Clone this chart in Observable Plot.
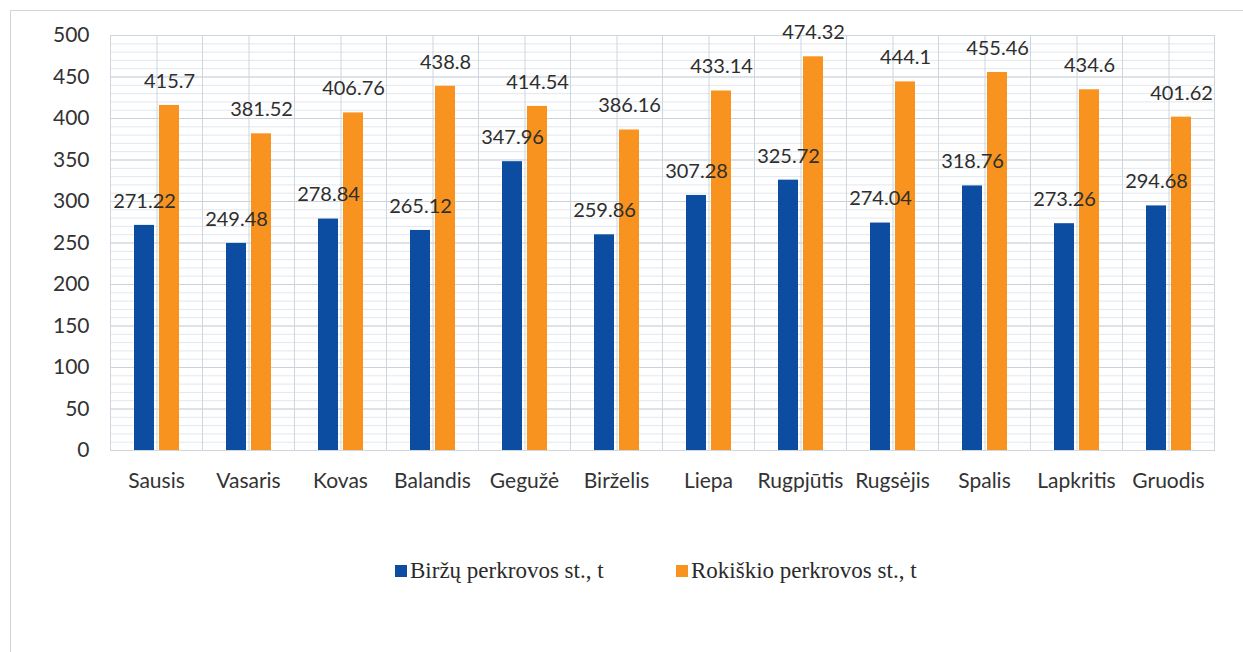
<!DOCTYPE html>
<html>
<head>
<meta charset="utf-8">
<script src="https://cdn.jsdelivr.net/npm/d3@7"></script>
<script src="https://cdn.jsdelivr.net/npm/@observablehq/plot@0.6"></script>
<style>
  html, body { margin: 0; padding: 0; background: #fff; }
  #wrap { position: relative; width: 1243px; height: 652px; overflow: hidden; }
  #border { position: absolute; left: 10px; top: 10px; width: 1240px; height: 660px; border: 1px solid #d4d4d4; box-sizing: border-box; }
  #chart { position: absolute; left: 0; top: 0; }
  .leg { position: absolute; top: 558px; display: flex; align-items: center; font-family: "Liberation Serif", "DejaVu Serif", serif; font-size: 23px; color: #2a2a2a; }
  .sw { width: 12px; height: 12px; margin-right: 3px; }
</style>
</head>
<body>
<div id="wrap">
  <div id="border"></div>
  <div id="chart"></div>
  <div id="legend"></div>
</div>
<script>
const months = ["Sausis","Vasaris","Kovas","Balandis","Gegužė","Birželis","Liepa","Rugpjūtis","Rugsėjis","Spalis","Lapkritis","Gruodis"];
const birzai = [271.22,249.48,278.84,265.12,347.96,259.86,307.28,325.72,274.04,318.76,273.26,294.68];
const rokiskis = [415.7,381.52,406.76,438.8,414.54,386.16,433.14,474.32,444.1,455.46,434.6,401.62];
const seriesNames = ["Biržų perkrovos st., t","Rokiškio perkrovos st., t"];
const seriesColors = ["#0c4da2","#f7931e"];
const yTicks = [0,50,100,150,200,250,300,350,400,450,500];

const rows = [];
months.forEach((m, i) => {
  rows.push({month: m, series: seriesNames[0], value: birzai[i]});
  rows.push({month: m, series: seriesNames[1], value: rokiskis[i]});
});

const font = "Lato, 'Open Sans', sans-serif";

const chart = Plot.plot({
  width: 1243,
  height: 500,
  marginLeft: 108,
  marginRight: 28,
  marginTop: 35,
  marginBottom: 50,
  style: {fontFamily: font, fontSize: "21px", color: "#333", background: "transparent"},
  fx: {domain: months, padding: 0, label: null, tickSize: 0, tickPadding: 23},
  x: {domain: seriesNames, paddingInner: 0.2, paddingOuter: 0.94, axis: null},
  y: {domain: [0, 500], ticks: yTicks, label: null, tickSize: 0, tickPadding: 21},
  color: {domain: seriesNames, range: seriesColors},
  marks: [
    Plot.gridY({interval: 10, stroke: "#e1e8ef", strokeOpacity: 1}),
    Plot.gridY(yTicks, {stroke: "#c9d3dd", strokeOpacity: 1}),
    Plot.frame({stroke: "#cdd6df"}),
    Plot.ruleX([seriesNames[0]], {x: d => d, dx: 12.5, stroke: "#cdd6df"}),
    Plot.barY(rows, {fx: "month", x: "series", y: "value", fill: "series"}),
    Plot.text(rows, {fx: "month", x: "series", y: "value", text: d => String(d.value), dy: -24, fill: "#2e2e2e", fontSize: 20})
  ]
});
document.getElementById("chart").appendChild(chart);

const legend = document.getElementById("legend");
const legendLeft = [395, 676];
seriesNames.forEach((name, i) => {
  const item = document.createElement("div");
  item.className = "leg";
  item.style.left = legendLeft[i] + "px";
  const sw = document.createElement("span");
  sw.className = "sw";
  sw.style.background = seriesColors[i];
  const t = document.createElement("span");
  t.textContent = name;
  item.appendChild(sw);
  item.appendChild(t);
  legend.appendChild(item);
});
</script>
</body>
</html>
